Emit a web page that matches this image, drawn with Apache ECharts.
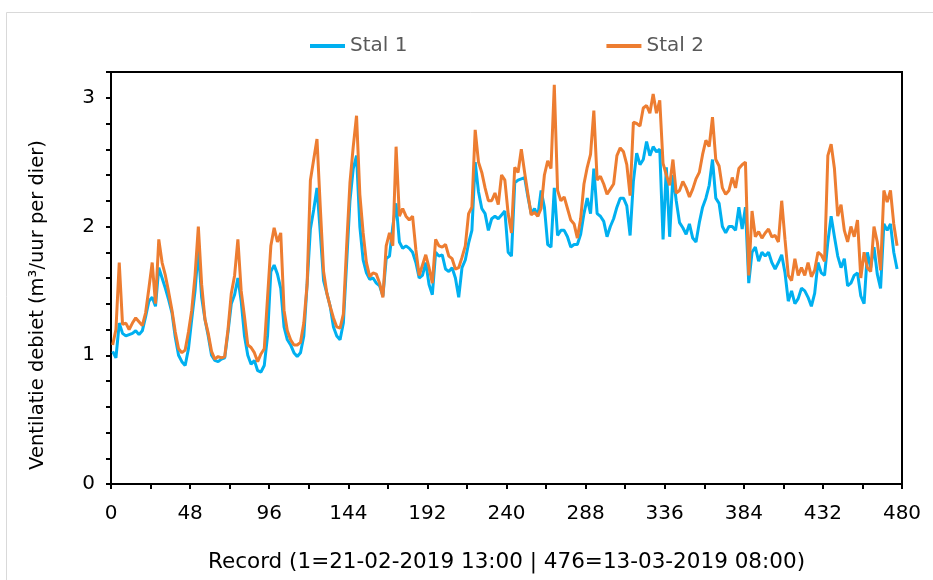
<!DOCTYPE html>
<html>
<head>
<meta charset="utf-8">
<script src="https://cdn.jsdelivr.net/npm/echarts@6/dist/echarts.min.js"></script>
<style>
html, body { margin: 0; padding: 0; background: #fff; }
#chart { width: 933px; height: 580px; }
</style>
</head>
<body>
<div id="chart"></div>
<script>
// record numbers (every second record)
const firstRecord = 1
const recordStep = 2

// Stal 1 (blue)
const stal1 = [
    1.03, 0.98, 1.25, 1.17, 1.15, 1.16, 1.17, 1.19, 1.16, 1.19,
    1.30, 1.42, 1.45, 1.38, 1.68, 1.60, 1.52, 1.43, 1.33, 1.14,
    1.00, 0.95, 0.92, 1.05, 1.28, 1.50, 1.82, 1.45, 1.28, 1.15,
    1.00, 0.96, 0.95, 0.97, 0.98, 1.18, 1.40, 1.47, 1.60, 1.42,
    1.15, 1.00, 0.93, 0.96, 0.88, 0.87, 0.92, 1.15, 1.65, 1.70,
    1.63, 1.52, 1.22, 1.12, 1.08, 1.02, 0.99, 1.02, 1.15, 1.55,
    1.98, 2.13, 2.30, 1.95, 1.58, 1.48, 1.38, 1.22, 1.15, 1.12,
    1.25, 1.72, 2.20, 2.45, 2.55, 2.00, 1.74, 1.64, 1.59, 1.60,
    1.56, 1.54, 1.46, 1.75, 1.77, 2.00, 2.18, 1.88, 1.83, 1.85,
    1.83, 1.80, 1.72, 1.60, 1.62, 1.72, 1.55, 1.47, 1.80, 1.77,
    1.78, 1.67, 1.65, 1.68, 1.60, 1.45, 1.68, 1.74, 1.87, 1.97,
    2.50, 2.27, 2.14, 2.10, 1.97, 2.06, 2.08, 2.06, 2.09, 2.12,
    1.80, 1.77, 2.34, 2.36, 2.37, 2.38, 2.23, 2.10, 2.14, 2.08,
    2.28, 2.15, 1.86, 1.84, 2.30, 1.93, 1.97, 1.97, 1.92, 1.84,
    1.86, 1.86, 1.94, 2.10, 2.22, 2.10, 2.45, 2.10, 2.08, 2.04,
    1.92, 2.00, 2.06, 2.15, 2.22, 2.22, 2.16, 1.93, 2.35, 2.57,
    2.48, 2.52, 2.66, 2.55, 2.62, 2.58, 2.60, 1.90, 2.46, 1.92,
    2.40, 2.20, 2.03, 1.99, 1.94, 2.02, 1.91, 1.88, 2.03, 2.15,
    2.22, 2.32, 2.52, 2.22, 2.18, 2.00, 1.95, 2.00, 2.00, 1.97,
    2.15, 1.98, 2.15, 1.56, 1.80, 1.84, 1.73, 1.80, 1.77, 1.80,
    1.72, 1.67, 1.72, 1.78, 1.64, 1.42, 1.50, 1.40, 1.44, 1.52,
    1.50, 1.45, 1.38, 1.48, 1.72, 1.64, 1.62, 1.88, 2.08, 1.92,
    1.77, 1.68, 1.75, 1.54, 1.56, 1.62, 1.64, 1.46, 1.40, 1.80,
    1.68, 1.84, 1.63, 1.52, 2.02, 1.97, 2.02, 1.80, 1.67
]

// Stal 2 (orange)
const stal2 = [
    1.08, 1.20, 1.72, 1.24, 1.25, 1.20, 1.25, 1.29, 1.26, 1.23,
    1.33, 1.52, 1.72, 1.40, 1.90, 1.72, 1.62, 1.49, 1.35, 1.18,
    1.05, 1.02, 1.04, 1.18, 1.35, 1.62, 2.00, 1.55, 1.28, 1.17,
    1.03, 0.97, 0.99, 0.98, 0.99, 1.20, 1.48, 1.62, 1.90, 1.50,
    1.30, 1.08, 1.06, 1.02, 0.95, 1.01, 1.05, 1.45, 1.85, 1.99,
    1.88, 1.95, 1.35, 1.19, 1.12, 1.08, 1.08, 1.10, 1.25, 1.55,
    2.36, 2.52, 2.68, 2.15, 1.65, 1.48, 1.38, 1.29, 1.22, 1.21,
    1.32, 1.85, 2.34, 2.62, 2.86, 2.25, 1.95, 1.72, 1.61, 1.64,
    1.63, 1.56, 1.45, 1.85, 1.95, 1.85, 2.62, 2.08, 2.14, 2.08,
    2.05, 2.08, 1.82, 1.62, 1.70, 1.78, 1.68, 1.56, 1.90, 1.85,
    1.84, 1.86, 1.77, 1.75, 1.67, 1.68, 1.76, 1.85, 2.10, 2.15,
    2.75, 2.50, 2.42, 2.30, 2.20, 2.20, 2.26, 2.17, 2.40, 2.36,
    2.10, 1.95, 2.46, 2.42, 2.60, 2.42, 2.25, 2.09, 2.11, 2.08,
    2.14, 2.40, 2.51, 2.45, 3.10, 2.28, 2.20, 2.23, 2.14, 2.05,
    2.02, 1.91, 2.06, 2.33, 2.46, 2.56, 2.90, 2.36, 2.39, 2.33,
    2.25, 2.29, 2.33, 2.55, 2.61, 2.58, 2.48, 2.24, 2.81, 2.80,
    2.78, 2.92, 2.94, 2.88, 3.03, 2.88, 2.98, 2.49, 2.40, 2.32,
    2.52, 2.26, 2.28, 2.35, 2.30, 2.23, 2.29, 2.37, 2.42, 2.56,
    2.67, 2.62, 2.85, 2.52, 2.47, 2.30, 2.25, 2.28, 2.38, 2.30,
    2.45, 2.48, 2.50, 1.62, 2.12, 1.92, 1.96, 1.91, 1.95, 1.98,
    1.92, 1.93, 1.88, 2.20, 1.90, 1.62, 1.58, 1.75, 1.62, 1.68,
    1.62, 1.72, 1.61, 1.66, 1.80, 1.78, 1.73, 2.55, 2.64, 2.45,
    2.08, 2.17, 1.97, 1.88, 2.00, 1.92, 2.05, 1.60, 1.80, 1.68,
    1.65, 2.00, 1.88, 1.66, 2.28, 2.19, 2.28, 2.02, 1.85
]

const xTicks = [0, 48, 96, 144, 192, 240, 288, 336, 384, 432, 480]
const yTicks = [0, 1, 2, 3]

function toPairs(values) {
    return values.map((v, i) => [firstRecord + i * recordStep, v])
}

const chart = echarts.init(document.getElementById('chart'), null, { renderer: 'canvas' })

chart.setOption({
    animation: false,
    backgroundColor: '#fff',
    textStyle: { fontFamily: 'DejaVu Sans' },
    graphic: [{
        type: 'rect',
        shape: { x: 6.5, y: 12.5, width: 940, height: 600 },
        style: { fill: 'none', stroke: '#d9d9d9', lineWidth: 1 },
        silent: true
    }, {
        type: 'text',
        x: 38,
        y: 305,
        rotation: Math.PI / 2,
        style: {
            text: 'Ventilatie debiet (m³/uur per dier)',
            fontSize: 19.5,
            fontFamily: 'DejaVu Sans',
            fill: '#000',
            align: 'center',
            verticalAlign: 'middle'
        }
    }],
    legend: {
        top: 31,
        left: 305,
        itemGap: 199,
        itemWidth: 35,
        itemHeight: 4,
        icon: 'rect',
        textStyle: { fontSize: 20, color: '#595959' },
        data: ['Stal 1', 'Stal 2']
    },
    grid: {
        left: 111,
        top: 72,
        right: 31,
        bottom: 96,
        show: true,
        borderColor: '#000',
        borderWidth: 2,
        containLabel: false
    },
    xAxis: {
        type: 'value',
        min: 0,
        max: 480,
        interval: 24,
        name: 'Record (1=21-02-2019 13:00 | 476=13-03-2019 08:00)',
        nameLocation: 'middle',
        nameGap: 67,
        nameTextStyle: { fontSize: 21.5, color: '#000' },
        axisLine: { lineStyle: { color: '#000', width: 2 } },
        axisTick: { show: true, length: 5, lineStyle: { color: '#000', width: 2 } },
        axisLabel: {
            margin: 20,
            fontSize: 20,
            color: '#000',
            formatter: v => xTicks.indexOf(v) >= 0 ? String(v) : ''
        },
        splitLine: { show: false }
    },
    yAxis: {
        type: 'value',
        min: 0,
        max: 3.2,
        interval: 0.2,
        axisLine: { show: true, lineStyle: { color: '#000', width: 2 } },
        axisTick: { show: true, length: 5, lineStyle: { color: '#000', width: 2 } },
        axisLabel: {
            margin: 16,
            fontSize: 20,
            color: '#000',
            formatter: v => {
                const r = Math.round(v)
                return Math.abs(v - r) < 1e-6 && yTicks.indexOf(r) >= 0 ? String(r) : ''
            }
        },
        splitLine: { show: false }
    },
    series: [{
        name: 'Stal 1',
        type: 'line',
        showSymbol: false,
        symbol: 'none',
        color: '#00b0f0',
        lineStyle: { width: 3, color: '#00b0f0' },
        data: toPairs(stal1)
    }, {
        name: 'Stal 2',
        type: 'line',
        showSymbol: false,
        symbol: 'none',
        color: '#ed7d31',
        lineStyle: { width: 3, color: '#ed7d31' },
        data: toPairs(stal2)
    }]
})
</script>
</body>
</html>
